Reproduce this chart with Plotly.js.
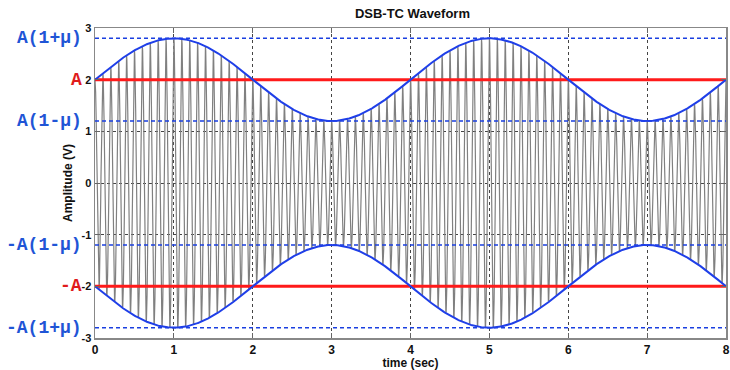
<!DOCTYPE html>
<html>
<head>
<meta charset="utf-8">
<script src="https://cdn.plot.ly/plotly-3.0.1.min.js"></script>
<style>html,body{margin:0;padding:0;background:#fff;}#chart{width:730px;height:370px;}</style>
</head>
<body>
<div id="chart"></div>
<script>
// Parameters
const carrierAmp = 2;          // A
const modIndex = 0.4;          // mu  -> A(1+mu)=2.8, A(1-mu)=1.2
const msgFreq = 0.25;          // Hz (period 4 s, peak at t=1)
const carrierFreq = 10;        // Hz (about 10 cycles per second)
const timeRange = [0, 8];
const sampleStep = 0.004;

const xTicks = [0, 1, 2, 3, 4, 5, 6, 7, 8];
const yTicks = [-3, -2, -1, 0, 1, 2, 3];
const levelLabels = ['A(1+μ)', 'A', 'A(1-μ)', '-A(1-μ)', '-A', '-A(1+μ)'];
const levelValues = [carrierAmp*(1+modIndex), carrierAmp, carrierAmp*(1-modIndex),
                     -carrierAmp*(1-modIndex), -carrierAmp, -carrierAmp*(1+modIndex)];
const levelColors = ['#1f55d6', '#e01b1b', '#1f55d6', '#1f55d6', '#e01b1b', '#1f55d6'];

const t = [], s = [], envU = [], envL = [];
for (let k = 0; timeRange[0] + k*sampleStep <= timeRange[1] + 1e-9; k++) {
  const tt = timeRange[0] + k*sampleStep;
  const env = carrierAmp*(1 + modIndex*Math.sin(2*Math.PI*msgFreq*tt));
  t.push(tt);
  envU.push(env);
  envL.push(-env);
  s.push(env*Math.cos(2*Math.PI*carrierFreq*tt));
}

const traces = [
  {x: t, y: s, mode: 'lines', line: {color: '#808080', width: 1.2}, hoverinfo: 'skip'},
];
levelValues.forEach((v, i) => {
  const isA = Math.abs(Math.abs(v) - carrierAmp) < 1e-9;
  traces.push({x: timeRange, y: [v, v], mode: 'lines',
    line: isA ? {color: '#ff1a1a', width: 3} : {color: '#1a3fe0', width: 1.5, dash: '4px,3px'}});
});
traces.push({x: t, y: envU, mode: 'lines', line: {color: '#1f3fe8', width: 2}});
traces.push({x: t, y: envL, mode: 'lines', line: {color: '#1f3fe8', width: 2}});

const annotations = levelLabels.map((lab, i) => ({
  x: -0.018, y: levelValues[i], xref: 'paper', yref: 'y', text: '<b>' + lab + '</b>',
  showarrow: false, xanchor: 'right', yanchor: 'middle',
  font: {family: 'Liberation Mono, Courier New, monospace', size: 18, color: levelColors[i]}
}));

const layout = {
  width: 730, height: 370,
  margin: {l: 95, r: 4, t: 28, b: 32},
  paper_bgcolor: '#fff', plot_bgcolor: '#fff',
  showlegend: false,
  title: {text: '<b>DSB-TC Waveform</b>', x: 0.565, xanchor: 'center', y: 0.965, yanchor: 'middle',
          font: {family: 'Arial, Liberation Sans, sans-serif', size: 13, color: '#111'}},
  xaxis: {
    range: timeRange, tickvals: xTicks, ticktext: xTicks.map(String),
    ticks: 'inside', ticklen: 5, tickcolor: '#666', mirror: 'ticks',
    showline: true, linecolor: '#888', linewidth: 1.5,
    showgrid: true, gridcolor: '#444', griddash: 'dot', gridwidth: 1,
    zeroline: false, ticklabeloverflow: 'allow',
    tickfont: {family: 'Arial, Liberation Sans, sans-serif', size: 12, color: '#111', weight: 'bold'},
    title: {text: '<b>time (sec)</b>', standoff: 3,
            font: {family: 'Arial, Liberation Sans, sans-serif', size: 12, color: '#111'}}
  },
  yaxis: {
    range: [-3, 3], tickvals: yTicks, ticktext: yTicks.map(String),
    ticks: 'inside', ticklen: 5, tickcolor: '#666', mirror: 'ticks',
    showline: true, linecolor: '#888', linewidth: 1.5,
    showgrid: true, gridcolor: '#444', griddash: 'dot', gridwidth: 1,
    zeroline: false, ticklabelstandoff: 0,
    tickfont: {family: 'Arial, Liberation Sans, sans-serif', size: 11, color: '#111', weight: 'bold'},
    title: {text: '<b>Amplitude (V)</b>', standoff: 6,
            font: {family: 'Arial, Liberation Sans, sans-serif', size: 12, color: '#111'}}
  },
  annotations: annotations
};

Plotly.newPlot('chart', traces, layout, {staticPlot: true, displayModeBar: false});
</script>
</body>
</html>
